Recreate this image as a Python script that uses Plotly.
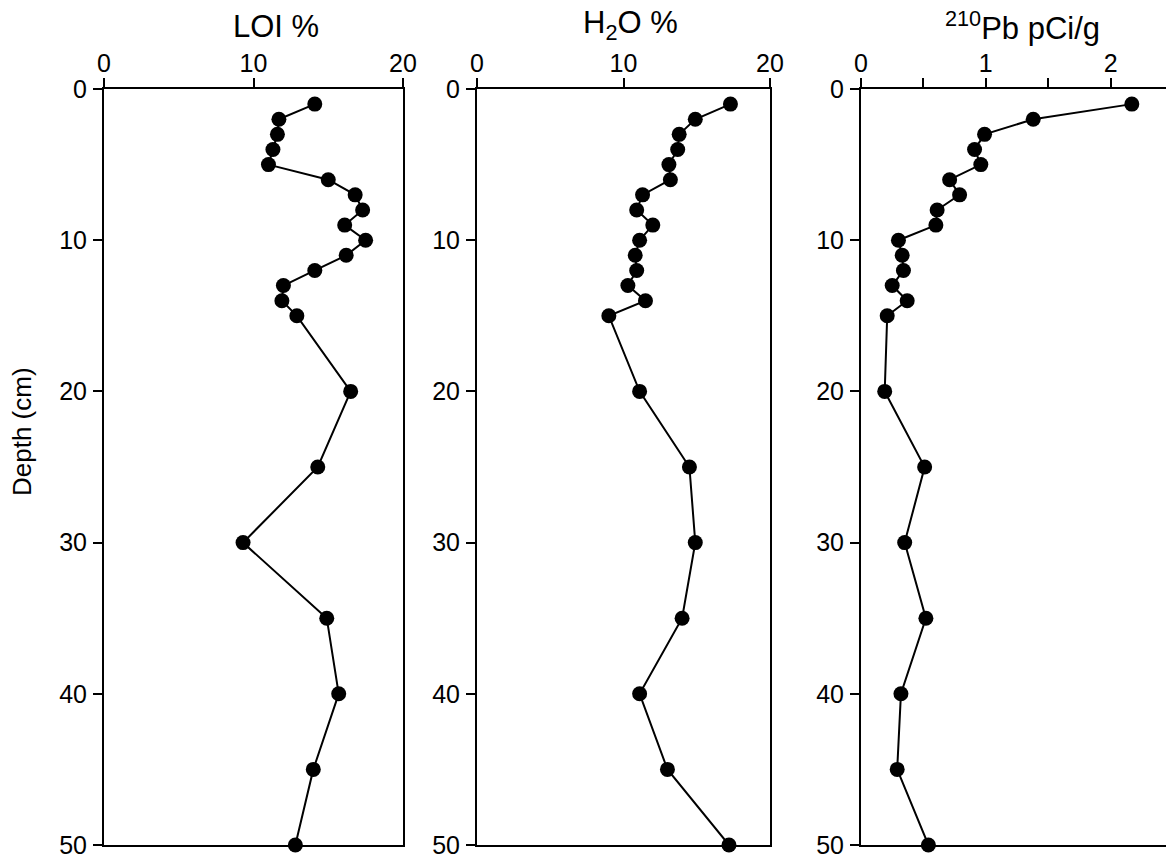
import plotly.graph_objects as go

W, H = 1166, 859

depth = [1, 2, 3, 4, 5, 6, 7, 8, 9, 10, 11, 12, 13, 14, 15, 20, 25, 30, 35, 40, 45, 50]
loi = [14.1, 11.7, 11.6, 11.3, 11.0, 15.0, 16.8, 17.3, 16.1, 17.5, 16.2, 14.1, 12.0, 11.9, 12.9,
       16.5, 14.3, 9.3, 14.9, 15.7, 14.0, 12.8]
h2o = [17.3, 14.9, 13.8, 13.7, 13.1, 13.2, 11.3, 10.9, 12.0, 11.1, 10.8, 10.9, 10.3, 11.5, 9.0,
       11.1, 14.5, 14.9, 14.0, 11.1, 13.0, 17.2]
pb210 = [2.17, 1.38, 0.99, 0.91, 0.96, 0.71, 0.79, 0.61, 0.60, 0.30, 0.33, 0.34, 0.25, 0.37, 0.21,
         0.19, 0.51, 0.35, 0.52, 0.32, 0.29, 0.54]

depth_ticks = [0, 10, 20, 30, 40, 50]
pct_ticks = [0, 10, 20]
pb_ticks = [0, 0.5, 1, 1.5, 2, 2.5]
pb_ticktext = ["0", "", "1", "", "2", ""]

titles = ["LOI %", "H<sub>2</sub>O %", "<sup>210</sup>Pb pCi/g"]

FONT = "Liberation Sans, Arial, sans-serif"

fig = go.Figure()

series = [loi, h2o, pb210]
for i, vals in enumerate(series):
    fig.add_trace(go.Scatter(
        x=vals, y=depth, mode="lines+markers",
        xaxis="x" if i == 0 else f"x{i+1}",
        yaxis="y" if i == 0 else f"y{i+1}",
        line=dict(color="black", width=2),
        marker=dict(color="black", size=15),
        cliponaxis=False, showlegend=False,
    ))

ytop = 1 - 89 / H
ybot = 1 - 845 / H
xdoms = [(104 / W, 403 / W), (477 / W, 770 / W), (861 / W, 1.0)]
xranges = [[0, 20], [0, 20], [0, (W - 861) / 124.8]]

layout = dict(
    width=W, height=H, margin=dict(l=0, r=0, t=0, b=0, autoexpand=False),
    paper_bgcolor="white", plot_bgcolor="white",
    font=dict(family=FONT, color="black", size=25),
)

for i in range(3):
    xk = "xaxis" if i == 0 else f"xaxis{i+1}"
    yk = "yaxis" if i == 0 else f"yaxis{i+1}"
    ya = "y" if i == 0 else f"y{i+1}"
    xa = "x" if i == 0 else f"x{i+1}"
    if i < 2:
        tv, tt = pct_ticks, [str(v) for v in pct_ticks]
    else:
        tv, tt = pb_ticks, pb_ticktext
    layout[xk] = dict(
        domain=list(xdoms[i]), range=xranges[i], side="top", anchor=ya,
        showline=True, mirror=True, linecolor="black", linewidth=2,
        ticks="outside", ticklen=9, tickwidth=2, tickcolor="black",
        tickvals=tv, ticktext=tt, showgrid=False, zeroline=False,
        tickfont=dict(size=25, family=FONT), ticklabelstandoff=-4,
        automargin=False, ticklabeloverflow="allow",
    )
    layout[yk] = dict(
        domain=[ybot, ytop], range=[50, 0], anchor=xa,
        showline=True, mirror=(i < 2), linecolor="black", linewidth=2,
        ticks="outside", ticklen=9, tickwidth=2, tickcolor="black",
        tickvals=depth_ticks, showgrid=False, zeroline=False,
        tickfont=dict(size=25, family=FONT), ticklabelstandoff=1,
        automargin=False, ticklabeloverflow="allow",
    )

fig.update_layout(**layout)

title_pos = [(276, 27), (630, 25), (1022, 26)]
for t, (px, py) in zip(titles, title_pos):
    fig.add_annotation(text=t, x=px / W, y=1 - py / H, xref="paper", yref="paper",
                       showarrow=False, font=dict(size=31, family=FONT, color="black"),
                       xanchor="center", yanchor="middle")

fig.add_annotation(text="Depth (cm)", x=22 / W, y=1 - 432 / H, xref="paper", yref="paper",
                   showarrow=False, textangle=-90,
                   font=dict(size=26, family=FONT, color="black"),
                   xanchor="center", yanchor="middle")

fig.write_html("out.html")
